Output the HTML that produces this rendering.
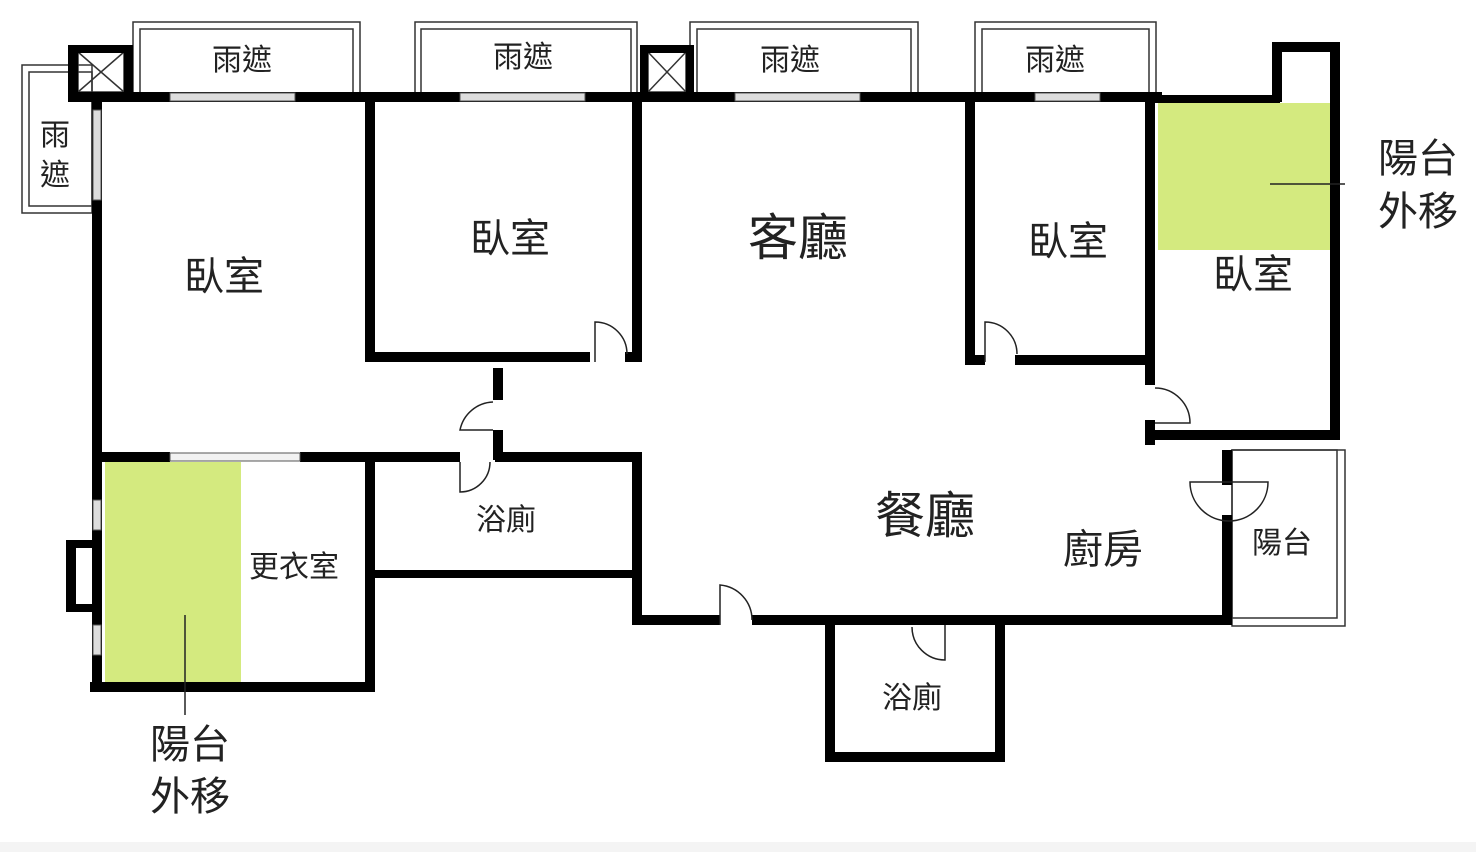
<!DOCTYPE html>
<html><head><meta charset="utf-8"><style>
body{margin:0;background:#fff}
svg{display:block}
text{font-family:"Liberation Sans","Noto Sans CJK TC",sans-serif;fill:#222}
</style></head><body>
<svg width="1476" height="852" viewBox="0 0 1476 852">
<rect x="0" y="0" width="1476" height="852" fill="#fff"/>
<rect x="0" y="842" width="1476" height="10" fill="#f4f4f4"/>
<!-- green -->
<rect x="1158" y="103" width="177" height="147" fill="#d4ea7f"/>
<rect x="105" y="462" width="136" height="220" fill="#d4ea7f"/>
<!-- rain shades -->
<g fill="none" stroke="#333" stroke-width="1.5">
<rect x="133" y="22" width="227" height="73"/><rect x="140" y="29" width="213" height="66"/>
<rect x="415" y="22" width="222" height="73"/><rect x="421" y="29" width="210" height="66"/>
<rect x="690" y="22" width="228" height="73"/><rect x="697" y="29" width="214" height="66"/>
<rect x="975" y="22" width="181" height="73"/><rect x="982" y="29" width="167" height="66"/>
<rect x="22" y="65" width="70" height="148"/><rect x="29" y="72" width="63" height="134"/>
<rect x="1232" y="450" width="113" height="176"/><rect x="1232" y="450" width="105" height="168"/>
<rect x="78" y="52" width="46" height="40"/><line x1="78" y1="52" x2="124" y2="92"/><line x1="124" y1="52" x2="78" y2="92"/>
<rect x="648" y="52" width="38" height="40"/><line x1="648" y1="52" x2="686" y2="92"/><line x1="686" y1="52" x2="648" y2="92"/>
</g>
<!-- walls -->
<g fill="#000">
<rect x="68" y="45" width="64" height="8"/><rect x="68" y="45" width="10" height="57"/><rect x="124" y="45" width="9" height="57"/>
<rect x="640" y="45" width="50" height="8"/><rect x="640" y="45" width="8" height="57"/><rect x="686" y="45" width="8" height="57"/>
<rect x="68" y="92" width="1094" height="10"/>
<rect x="92" y="92" width="10" height="600"/>
<rect x="1272" y="42" width="68" height="10"/><rect x="1272" y="42" width="10" height="60"/><rect x="1330" y="42" width="10" height="398"/>
<rect x="1150" y="95" width="130" height="8"/>
<rect x="365" y="95" width="10" height="267"/><rect x="365" y="352" width="225" height="10"/>
<rect x="632" y="95" width="10" height="267"/><rect x="625" y="352" width="17" height="10"/>
<rect x="965" y="95" width="10" height="270"/><rect x="965" y="355" width="20" height="10"/><rect x="1015" y="355" width="140" height="10"/>
<rect x="1145" y="95" width="10" height="290"/><rect x="1145" y="420" width="10" height="25"/><rect x="1145" y="430" width="195" height="10"/>
<rect x="493" y="368" width="10" height="32"/><rect x="493" y="430" width="10" height="30"/>
<rect x="102" y="452" width="68" height="10"/><rect x="300" y="452" width="160" height="10"/><rect x="495" y="452" width="147" height="10"/>
<rect x="365" y="452" width="10" height="240"/><rect x="632" y="452" width="10" height="173"/>
<rect x="375" y="570" width="265" height="8"/>
<rect x="90" y="682" width="282" height="10"/>
<rect x="66" y="540" width="30" height="8"/><rect x="66" y="540" width="10" height="72"/><rect x="66" y="604" width="30" height="8"/>
<rect x="632" y="615" width="88" height="10"/><rect x="752" y="615" width="480" height="10"/>
<rect x="1222" y="450" width="10" height="35"/><rect x="1222" y="515" width="10" height="110"/>
<rect x="825" y="625" width="10" height="137"/><rect x="825" y="752" width="180" height="10"/><rect x="995" y="625" width="10" height="137"/>
</g>
<!-- windows -->
<g fill="#ddd" stroke="#555" stroke-width="1">
<rect x="170" y="93" width="125" height="8"/><rect x="460" y="93" width="125" height="8"/><rect x="735" y="93" width="125" height="8"/><rect x="1035" y="93" width="65" height="8"/>
<rect x="93" y="110" width="8" height="90"/><rect x="93" y="500" width="8" height="30"/><rect x="93" y="625" width="8" height="30"/>
<rect x="170" y="453" width="130" height="8" fill="#f2f2f2"/>
</g>
<!-- doors -->
<g fill="none" stroke="#222" stroke-width="1.5">
<path d="M595 362 V322 A32 32 0 0 1 627 354"/>
<path d="M985 362 V322 A32 32 0 0 1 1017 354"/>
<path d="M1155 388 A35 35 0 0 1 1190 423 H1155"/>
<path d="M493 402 A35 35 0 0 0 460 430 H493"/>
<path d="M460 462 V492 A30 30 0 0 0 490 462"/>
<path d="M1190 482 H1268 A39 39 0 0 1 1190 482 Z"/>
<path d="M720 625 V585 A35 35 0 0 1 752 620"/>
<path d="M945 625 V660 A33 33 0 0 1 912 627"/>
<line x1="185" y1="615" x2="185" y2="715"/><line x1="1270" y1="184" x2="1345" y2="184"/>
</g>
<!-- labels -->
<g font-size="30">
<text x="212" y="70">雨遮</text><text x="493" y="67">雨遮</text><text x="760" y="70">雨遮</text><text x="1025" y="70">雨遮</text>
<text x="40" y="145">雨</text><text x="40" y="185">遮</text>
<text x="184" y="290" font-size="40">臥室</text>
<text x="470" y="252" font-size="40">臥室</text>
<text x="748" y="255" font-size="50">客廳</text>
<text x="1028" y="255" font-size="40">臥室</text>
<text x="1213" y="288" font-size="40">臥室</text>
<text x="1378" y="172" font-size="40">陽台</text><text x="1378" y="225" font-size="40">外移</text>
<text x="476" y="530">浴廁</text>
<text x="875" y="533" font-size="50">餐廳</text>
<text x="1063" y="563" font-size="40">廚房</text>
<text x="1252" y="553">陽台</text>
<text x="249" y="577">更衣室</text>
<text x="882" y="708">浴廁</text>
<text x="150" y="758" font-size="40">陽台</text><text x="150" y="810" font-size="40">外移</text>
</g>
</svg>
</body></html>
